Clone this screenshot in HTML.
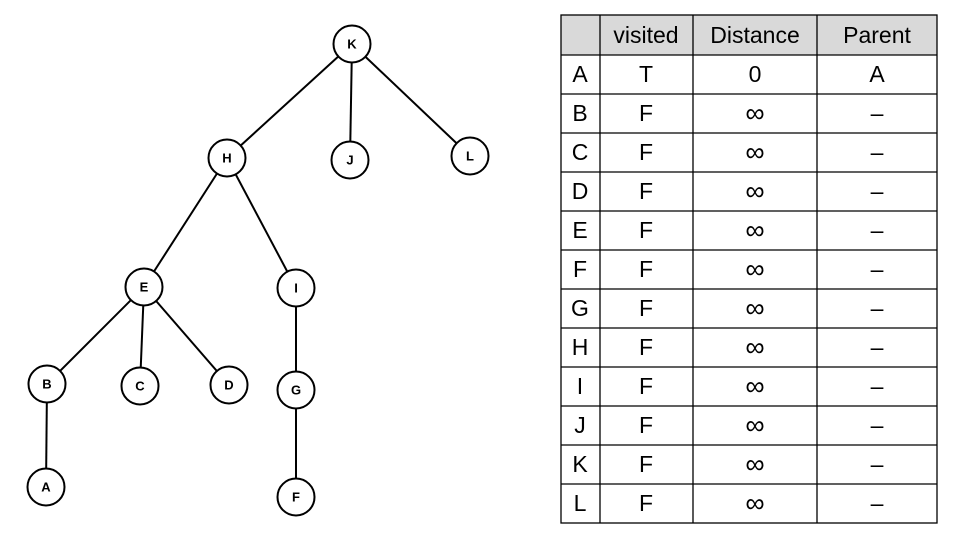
<!DOCTYPE html>
<html><head><meta charset="utf-8"><style>
body{margin:0;background:#fff;width:953px;height:536px;overflow:hidden}
svg{display:block}
.n{fill:#fff;stroke:#000;stroke-width:2}
.l{font-family:"Liberation Sans",sans-serif;font-size:13px;font-weight:bold;text-anchor:middle;dominant-baseline:central}
.t{font-family:"Liberation Sans","DejaVu Sans",sans-serif;font-size:23px;text-anchor:middle;dominant-baseline:central}
.i{font-size:27px}
</style></head><body>
<svg width="953" height="536" xmlns="http://www.w3.org/2000/svg">
<g stroke="#000" stroke-width="2">
<line x1="352" y1="44" x2="227" y2="158"/><line x1="352" y1="44" x2="350" y2="160"/><line x1="352" y1="44" x2="470" y2="156"/>
<line x1="227" y1="158" x2="144" y2="287"/><line x1="227" y1="158" x2="296" y2="288"/>
<line x1="144" y1="287" x2="47" y2="384"/><line x1="144" y1="287" x2="140" y2="386"/><line x1="144" y1="287" x2="229" y2="385"/>
<line x1="296" y1="288" x2="296" y2="390"/><line x1="47" y1="384" x2="46" y2="487"/><line x1="296" y1="390" x2="296" y2="497"/>
</g>
<g>
<circle class="n" cx="352" cy="44" r="18.5"/><text class="l" x="352" y="44">K</text>
<circle class="n" cx="227" cy="158" r="18.5"/><text class="l" x="227" y="158">H</text>
<circle class="n" cx="350" cy="160" r="18.5"/><text class="l" x="350" y="160">J</text>
<circle class="n" cx="470" cy="156" r="18.5"/><text class="l" x="470" y="156">L</text>
<circle class="n" cx="144" cy="287" r="18.5"/><text class="l" x="144" y="287">E</text>
<circle class="n" cx="296" cy="288" r="18.5"/><text class="l" x="296" y="288">I</text>
<circle class="n" cx="47" cy="384" r="18.5"/><text class="l" x="47" y="384">B</text>
<circle class="n" cx="140" cy="386" r="18.5"/><text class="l" x="140" y="386">C</text>
<circle class="n" cx="229" cy="385" r="18.5"/><text class="l" x="229" y="385">D</text>
<circle class="n" cx="296" cy="390" r="18.5"/><text class="l" x="296" y="390">G</text>
<circle class="n" cx="46" cy="487" r="18.5"/><text class="l" x="46" y="487">A</text>
<circle class="n" cx="296" cy="497" r="18.5"/><text class="l" x="296" y="497">F</text>
</g>
<rect x="561" y="15" width="376" height="40" fill="#d9d9d9"/>
<g stroke="#000" stroke-width="1.3">
<rect x="561" y="15" width="376" height="508" fill="none"/>
<line x1="600" y1="15" x2="600" y2="523"/><line x1="693" y1="15" x2="693" y2="523"/><line x1="817" y1="15" x2="817" y2="523"/>
<line x1="561" y1="55" x2="937" y2="55"/><line x1="561" y1="94" x2="937" y2="94"/><line x1="561" y1="133" x2="937" y2="133"/>
<line x1="561" y1="172" x2="937" y2="172"/><line x1="561" y1="211" x2="937" y2="211"/><line x1="561" y1="250" x2="937" y2="250"/>
<line x1="561" y1="289" x2="937" y2="289"/><line x1="561" y1="328" x2="937" y2="328"/><line x1="561" y1="367" x2="937" y2="367"/>
<line x1="561" y1="406" x2="937" y2="406"/><line x1="561" y1="445" x2="937" y2="445"/><line x1="561" y1="484" x2="937" y2="484"/>
</g>
<text class="t" x="646" y="35">visited</text><text class="t" x="755" y="35">Distance</text><text class="t" x="877" y="35">Parent</text>
<text class="t" x="580" y="74">A</text><text class="t" x="646" y="74">T</text><text class="t" x="755" y="74">0</text><text class="t" x="877" y="74">A</text>
<text class="t" x="580" y="113">B</text><text class="t" x="646" y="113">F</text><text class="t i" x="755" y="113">∞</text><text class="t" x="877" y="113">–</text>
<text class="t" x="580" y="152">C</text><text class="t" x="646" y="152">F</text><text class="t i" x="755" y="152">∞</text><text class="t" x="877" y="152">–</text>
<text class="t" x="580" y="191">D</text><text class="t" x="646" y="191">F</text><text class="t i" x="755" y="191">∞</text><text class="t" x="877" y="191">–</text>
<text class="t" x="580" y="230">E</text><text class="t" x="646" y="230">F</text><text class="t i" x="755" y="230">∞</text><text class="t" x="877" y="230">–</text>
<text class="t" x="580" y="269">F</text><text class="t" x="646" y="269">F</text><text class="t i" x="755" y="269">∞</text><text class="t" x="877" y="269">–</text>
<text class="t" x="580" y="308">G</text><text class="t" x="646" y="308">F</text><text class="t i" x="755" y="308">∞</text><text class="t" x="877" y="308">–</text>
<text class="t" x="580" y="347">H</text><text class="t" x="646" y="347">F</text><text class="t i" x="755" y="347">∞</text><text class="t" x="877" y="347">–</text>
<text class="t" x="580" y="386">I</text><text class="t" x="646" y="386">F</text><text class="t i" x="755" y="386">∞</text><text class="t" x="877" y="386">–</text>
<text class="t" x="580" y="425">J</text><text class="t" x="646" y="425">F</text><text class="t i" x="755" y="425">∞</text><text class="t" x="877" y="425">–</text>
<text class="t" x="580" y="464">K</text><text class="t" x="646" y="464">F</text><text class="t i" x="755" y="464">∞</text><text class="t" x="877" y="464">–</text>
<text class="t" x="580" y="503">L</text><text class="t" x="646" y="503">F</text><text class="t i" x="755" y="503">∞</text><text class="t" x="877" y="503">–</text>
</svg>
</body></html>
